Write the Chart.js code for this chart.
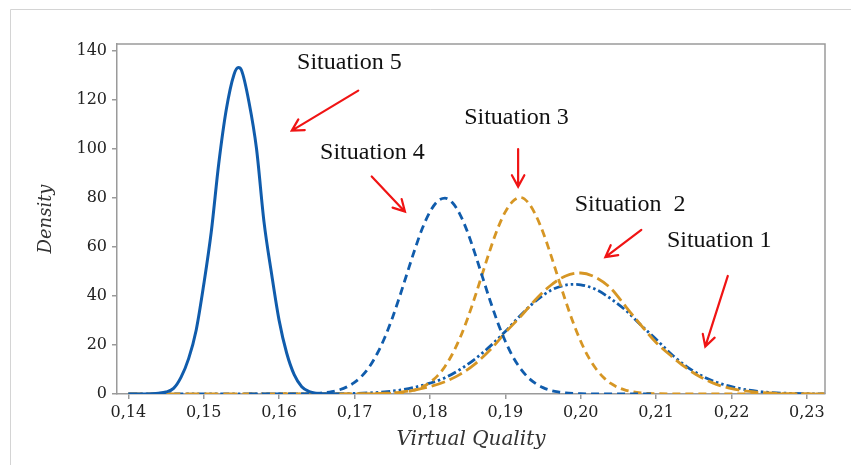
<!DOCTYPE html>
<html><head><meta charset="utf-8">
<script src="https://cdn.jsdelivr.net/npm/chart.js@4.4.0/dist/chart.umd.min.js"></script>
<style>html,body{margin:0;padding:0;background:#fff;}#wrap{width:851px;height:465px;position:relative}</style>
</head><body><div id="wrap"><canvas id="c" width="851" height="465"></canvas></div>
<script>
// Tick values
const xTicks = [0.14,0.15,0.16,0.17,0.18,0.19,0.20,0.21,0.22,0.23];
const yTicks = [0,20,40,60,80,100,120,140];

// Situation 5 (solid blue)
const x5 = [0.140,0.142,0.143,0.144,0.145,0.146,0.147,0.148,0.149,0.150,0.151,0.152,0.153,0.154,0.1546,0.155,0.156,0.157,0.158,0.159,0.160,0.161,0.162,0.163,0.164,0.165,0.166,0.168];
const y5 = [0,0,0.1,0.3,0.8,2.3,6.9,14.4,26,44.5,66,94,116,130,133,132,119,100,70,49,30,16.7,7.9,3,1,0.3,0.1,0];

// Situation 4 (blue dashed)
const x4 = [0.156,0.164,0.165,0.166,0.167,0.168,0.169,0.170,0.171,0.172,0.173,0.174,0.175,0.176,0.177,0.178,0.179,0.180,0.181,0.182,0.183,0.184,0.185,0.186,0.187,0.188,0.189,0.190,0.191,0.192,0.193,0.194,0.195,0.196,0.197,0.198,0.199,0.200,0.210];
const y4 = [0,0.1,0.26,0.5,0.94,1.7,2.9,4.7,7.4,11.2,16.4,22.9,30.8,39.8,49.4,58.9,67.5,74.2,78.5,79.8,77.9,73.1,65.9,57.0,47.4,37.9,29.1,21.5,15.2,10.4,6.8,4.3,2.6,1.5,0.84,0.45,0.23,0.1,0];

// Situation 3 (orange dashed)
const x3 = [0.160,0.174,0.175,0.176,0.177,0.178,0.179,0.180,0.181,0.182,0.183,0.184,0.185,0.186,0.187,0.188,0.189,0.190,0.191,0.192,0.193,0.194,0.195,0.196,0.197,0.198,0.199,0.200,0.201,0.202,0.203,0.204,0.205,0.206,0.207,0.208,0.209,0.210,0.2324];
const y3 = [0,0.1,0.26,0.5,0.94,1.7,2.9,4.7,7.4,11.2,16.4,22.9,30.8,39.8,49.4,58.9,67.5,74.2,78.5,80.1,78.1,73.1,65.9,57.0,47.4,37.9,29.1,21.5,15.2,10.4,6.8,4.3,2.6,1.5,0.84,0.45,0.23,0.1,0];

// Situation 2 (orange long dash)
const x2 = [0.140,0.168,0.170,0.172,0.174,0.176,0.178,0.180,0.182,0.184,0.186,0.188,0.190,0.192,0.194,0.196,0.198,0.200,0.202,0.204,0.206,0.208,0.210,0.212,0.214,0.216,0.218,0.220,0.222,0.224,0.226,0.228,0.230,0.232,0.2324];
const y2 = [0,0.02,0.06,0.14,0.31,0.7,1.6,3,5,8,12.3,18,25,31.5,38.4,44.2,48.1,49.3,47.5,43,35.5,28,21,15.5,10.6,6.7,3.9,2.2,1.15,0.57,0.26,0.11,0.04,0.01,0];

// Situation 1 (blue dash-dot-dot)
const x1 = [0.140,0.164,0.166,0.168,0.170,0.172,0.174,0.176,0.178,0.180,0.182,0.184,0.186,0.188,0.190,0.192,0.194,0.196,0.198,0.199,0.200,0.202,0.204,0.206,0.208,0.210,0.212,0.214,0.216,0.218,0.220,0.222,0.224,0.226,0.228,0.230,0.232,0.2324];
const y1 = [0,0.02,0.05,0.1,0.22,0.45,0.86,1.59,2.76,4.4,6.6,10,14.3,19.5,25.5,32,37.8,42.2,44.4,44.7,44.5,42.6,38.8,34,28,22.3,16.3,11.3,7.5,4.8,3,1.7,0.9,0.47,0.23,0.1,0.05,0.04];

// Annotations (data coordinates)
const labelText = ['Situation 1','Situation  2','Situation 3','Situation 4','Situation 5'];
const labelX = [0.21143,0.19921,0.18454,0.16543,0.16238];
const labelY = [62.5,77.1,112.6,98.3,135.0];
const arrowFromX = [0.21951,0.20804,0.19170,0.17228,0.17050];
const arrowFromY = [48.1,66.9,99.8,88.6,123.6];
const arrowToX = [0.21652,0.20327,0.19170,0.17669,0.16168];
const arrowToY = [19.3,55.8,84.5,74.3,107.3];

const BLUE = 'rgb(16,92,172)';
const ORANGE = 'rgb(214,150,36)';

function pts(xs, ys){ return xs.map((x,i)=>({x:x, y:ys[i]})); }

const deco = {
  id:'deco',
  beforeDraw(chart){
    const ctx = chart.ctx;
    ctx.save(); ctx.fillStyle='#fff'; ctx.fillRect(0,0,chart.width,chart.height);
    ctx.strokeStyle='#d4d4d4'; ctx.lineWidth=1;
    ctx.beginPath(); ctx.moveTo(10.5,465); ctx.lineTo(10.5,9.5); ctx.lineTo(851,9.5); ctx.stroke();
    ctx.restore();
  },
  afterDraw(chart){
    const {ctx, chartArea:a, scales:{x,y}} = chart;
    ctx.save();
    ctx.strokeStyle='#9a9a9a'; ctx.lineWidth=1.5;
    ctx.beginPath(); ctx.moveTo(a.left,a.top); ctx.lineTo(a.right,a.top); ctx.lineTo(a.right,a.bottom); ctx.stroke();
    ctx.fillStyle='#111'; ctx.font='24px "Liberation Serif"'; ctx.textBaseline='middle'; ctx.textAlign='left';
    labelText.forEach((t,i)=>{ ctx.fillText(t, x.getPixelForValue(labelX[i]), y.getPixelForValue(labelY[i])); });
    ctx.strokeStyle='#f01414'; ctx.lineWidth=2.2; ctx.lineCap='round';
    arrowFromX.forEach((fx,i)=>{
      const x0=x.getPixelForValue(fx), y0=y.getPixelForValue(arrowFromY[i]);
      const x1p=x.getPixelForValue(arrowToX[i]), y1p=y.getPixelForValue(arrowToY[i]);
      const ang=Math.atan2(y1p-y0,x1p-x0), L=13, sp=0.5;
      ctx.beginPath(); ctx.moveTo(x0,y0); ctx.lineTo(x1p,y1p);
      ctx.moveTo(x1p-L*Math.cos(ang-sp), y1p-L*Math.sin(ang-sp)); ctx.lineTo(x1p,y1p);
      ctx.lineTo(x1p-L*Math.cos(ang+sp), y1p-L*Math.sin(ang+sp));
      ctx.stroke();
    });
    ctx.restore();
  }
};

const tickFont = {family:'"DejaVu Serif"', size:16};
new Chart(document.getElementById('c').getContext('2d'), {
  type:'line',
  data:{datasets:[
    {label:'Situation 5', data:pts(x5,y5), borderColor:BLUE, borderWidth:3},
    {label:'Situation 4', data:pts(x4,y4), borderColor:BLUE, borderWidth:2.8, borderDash:[8,5]},
    {label:'Situation 3', data:pts(x3,y3), borderColor:ORANGE, borderWidth:2.8, borderDash:[8,5]},
    {label:'Situation 2', data:pts(x2,y2), borderColor:ORANGE, borderWidth:2.8, borderDash:[14,5]},
    {label:'Situation 1', data:pts(x1,y1), borderColor:BLUE, borderWidth:2.8, borderDash:[9,3,2.5,3,2.5,3]}
  ].map(d=>Object.assign(d,{pointRadius:0, fill:false, cubicInterpolationMode:'monotone'}))},
  options:{
    responsive:false, animation:false, devicePixelRatio:1,
    layout:{padding:{top:44,right:26,left:0,bottom:0}},
    plugins:{legend:{display:false}, tooltip:{enabled:false}},
    scales:{
      x:{type:'linear', min:0.1385, max:0.2324,
        afterBuildTicks:s=>{s.ticks=xTicks.map(v=>({value:v}));},
        afterFit:s=>{s.height=71;},
        ticks:{callback:v=>Number(v).toFixed(2).replace('.',','), font:tickFont, color:'#222', padding:4, maxRotation:0, autoSkip:false},
        grid:{drawOnChartArea:false, tickLength:5, color:'#9a9a9a', lineWidth:1.5},
        border:{color:'#9a9a9a', width:1.5},
        title:{display:true, text:'Virtual Quality', color:'#333', font:{family:'"DejaVu Serif"', style:'italic', size:20}, padding:{top:0,bottom:13}}
      },
      y:{type:'linear', min:0, max:142.6,
        afterBuildTicks:s=>{s.ticks=yTicks.map(v=>({value:v}));},
        afterFit:s=>{s.width=117;},
        ticks:{font:tickFont, color:'#222', padding:5, autoSkip:false},
        grid:{drawOnChartArea:false, tickLength:5, color:'#9a9a9a', lineWidth:1.5},
        border:{color:'#9a9a9a', width:1.5},
        title:{display:true, text:'Density', color:'#333', font:{family:'"DejaVu Serif"', style:'italic', size:18}, padding:{top:36,bottom:0}}
      }
    }
  },
  plugins:[deco]
});
</script></body></html>
